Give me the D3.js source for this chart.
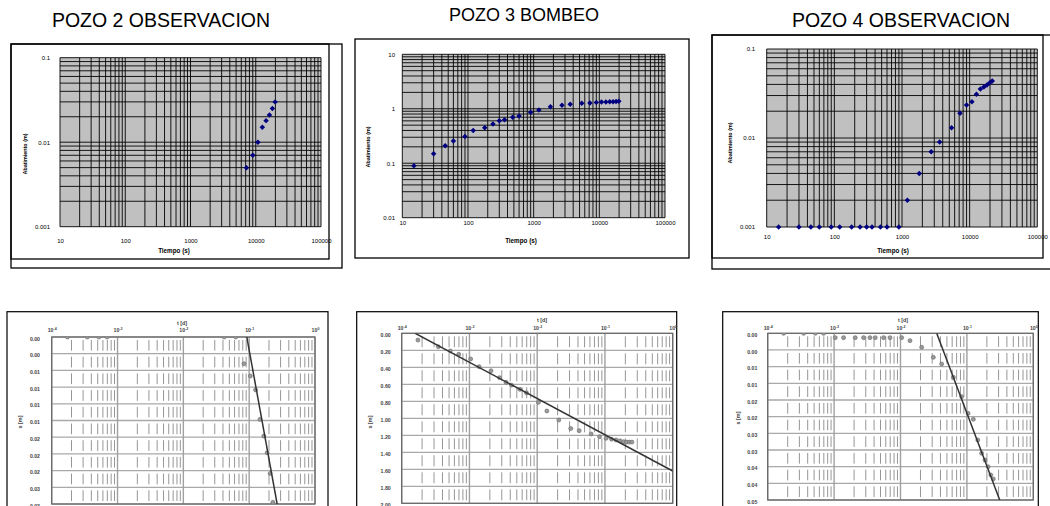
<!DOCTYPE html>
<html>
<head>
<meta charset="utf-8">
<script src="https://cdn.jsdelivr.net/npm/d3@7"></script>
<style>
  body { margin: 0; background: #fff; }
  svg { display: block; font-family: Arial, "Liberation Sans", sans-serif; }
</style>
</head>
<body>
<div id="chart"></div>
<script>
// panel titles
var titles = ["POZO 2 OBSERVACION", "POZO 3 BOMBEO", "POZO 4 OBSERVACION"];

// top charts: tiempo (s) vs abatimiento (m), log-log
var topXTicks = [10, 100, 1000, 10000, 100000];
var topXLabels = ["10", "100", "1000", "10000", "100000"];
var obsYTicks = [0.001, 0.01, 0.1];
var obsYLabels = ["0.001", "0.01", "0.1"];
var bomYTicks = [0.01, 0.1, 1, 10];
var bomYLabels = ["0.01", "0.1", "1", "10"];

var p2Time = [7200, 9000, 10800, 12600, 14400, 16200, 18000, 19800];
var p2Abat = [0.005, 0.007, 0.010, 0.015, 0.018, 0.021, 0.025, 0.030];

var p3Time = [15, 30, 45, 60, 90, 120, 180, 240, 300, 360, 480, 600, 900, 1200, 1800, 2700,
              3600, 5400, 7200, 9000, 10800, 12600, 14400, 16200, 18000, 19800];
var p3Abat = [0.09, 0.15, 0.21, 0.256, 0.31, 0.40, 0.45, 0.525, 0.60, 0.63, 0.70, 0.735, 0.86, 0.95, 1.09, 1.16,
              1.21, 1.26, 1.28, 1.31, 1.33, 1.33, 1.34, 1.34, 1.36, 1.37];

var p4Time = [15, 30, 45, 60, 90, 120, 180, 240, 300, 360, 480, 600, 900, 1200, 1800, 2700,
              3600, 5400, 7200, 9000, 10800, 12600, 14400, 16200, 18000, 19800, 21600];
var p4Abat = [0.001, 0.001, 0.001, 0.001, 0.001, 0.001, 0.001, 0.001, 0.001, 0.001, 0.001, 0.001, 0.001,
              0.002, 0.004, 0.007, 0.009, 0.013, 0.019, 0.0235, 0.0256, 0.031, 0.0355, 0.0374, 0.0394, 0.0418, 0.0437];

// bottom charts: t [d] vs s [m], semilog (Jacob)
var dayTicks = [0.0001, 0.001, 0.01, 0.1, 1];
var p2SLabels = ["0.00", "0.00", "0.01", "0.01", "0.01", "0.01", "0.02", "0.02", "0.02", "0.03", "0.03"];
var p3SLabels = ["0.00", "0.20", "0.40", "0.60", "0.80", "1.00", "1.20", "1.40", "1.60", "1.80", "2.00"];
var p4SLabels = ["0.00", "0.00", "0.01", "0.01", "0.02", "0.02", "0.03", "0.03", "0.04", "0.04", "0.05"];

var p2TimeB = [15, 30, 45, 60, 3600, 5400, 7200, 9000, 10800, 12600, 14400, 16200, 18000, 19800];
var p2S = [0, 0, 0, 0, 0, 0, 0.0048, 0.007, 0.0095, 0.0148, 0.0178, 0.0208, 0.0245, 0.0297];
var p2Fit = [[0.092, 0], [0.266, 0.03]];

var p3TimeB = [15, 30, 45, 60, 90, 120, 180, 240, 300, 360, 480, 600, 900, 1200, 1800, 2700,
               3600, 5400, 7200, 9000, 10800, 12600, 14400, 16200, 18000, 19800, 21600];
var p3S = [0.08, 0.158, 0.208, 0.247, 0.302, 0.393, 0.44, 0.522, 0.576, 0.61, 0.659, 0.70, 0.812, 0.914, 1.02, 1.12,
           1.146, 1.185, 1.216, 1.235, 1.245, 1.255, 1.265, 1.275, 1.28, 1.28, 1.28];
var p3Fit = [[0.000158, 0], [1, 1.62]];

var p4TimeB = p4Time;
var p4S = [0, 0, 0, 0, 0.0013, 0.0013, 0.0013, 0.0013, 0.0013, 0.0013, 0.0013, 0.0013, 0.0013,
           0.0022, 0.0042, 0.0072, 0.0092, 0.0132, 0.019, 0.024, 0.0258, 0.032, 0.036, 0.038, 0.040, 0.0425, 0.0437];
var p4Fit = [[0.0351, 0], [0.312, 0.05]];

var svg = d3.select("#chart").append("svg")
    .attr("width", 1050)
    .attr("height", 506);
svg.append("rect").attr("width", 1050).attr("height", 506).attr("fill", "#fff");

var defs = svg.append("defs");

function frame(g, f, w) {
  g.append("rect")
    .attr("x", f[0]).attr("y", f[1])
    .attr("width", f[2] - f[0]).attr("height", f[3] - f[1])
    .attr("fill", "none").attr("stroke", "#000").attr("stroke-width", w);
}

function drawTop(c) {
  var g = svg.append("g");
  c.frames.forEach(function(f) { frame(g, f, 1.3); });

  var x = d3.scaleLog().domain([10, 100000]).range([c.l, c.r]);
  var y = d3.scaleLog().domain(c.yDomain).range([c.b, c.t]);

  g.append("rect")
    .attr("x", c.l).attr("y", c.t)
    .attr("width", c.r - c.l).attr("height", c.b - c.t)
    .attr("fill", "#c0c0c0");

  // grid (1..9 per decade)
  g.append("g").selectAll("line").data(x.ticks()).join("line")
    .attr("x1", function(d) { return x(d); }).attr("x2", function(d) { return x(d); })
    .attr("y1", c.t).attr("y2", c.b)
    .attr("stroke", "#000").attr("stroke-width", 0.9);
  g.append("g").selectAll("line").data(y.ticks()).join("line")
    .attr("x1", c.l).attr("x2", c.r)
    .attr("y1", function(d) { return y(d); }).attr("y2", function(d) { return y(d); })
    .attr("stroke", "#000").attr("stroke-width", 0.9);

  // axes
  var ya = g.append("g")
    .attr("transform", "translate(" + c.l + ",0)")
    .call(d3.axisLeft(y).tickValues(c.yTicks)
      .tickFormat(function(d, i) { return c.yLabels[i]; })
      .tickSize(0).tickPadding(c.l - c.yLabX));
  var xa = g.append("g")
    .attr("transform", "translate(0," + c.b + ")")
    .call(d3.axisBottom(x).tickValues(topXTicks)
      .tickFormat(function(d, i) { return topXLabels[i]; })
      .tickSize(0));
  xa.selectAll("text").attr("y", c.xLabY - c.b).attr("dy", "0.35em");
  [ya, xa].forEach(function(a) {
    a.select(".domain").remove();
    a.selectAll("text").attr("font-size", 6).attr("fill", "#000")
      .attr("font-family", "Arial, 'Liberation Sans', sans-serif");
  });

  g.append("text")
    .attr("x", c.xTitle[0]).attr("y", c.xTitle[1])
    .attr("text-anchor", "middle").attr("font-size", 6.3).attr("font-weight", "bold")
    .text("Tiempo (s)");
  g.append("text")
    .attr("transform", "translate(" + c.yTitle[0] + "," + c.yTitle[1] + ") rotate(-90)")
    .attr("text-anchor", "middle").attr("font-size", 5.4).attr("font-weight", "bold")
    .text("Abatimiento (m)");

  // points
  var sym = d3.symbol().type(d3.symbolSquare).size(15);
  g.append("g").selectAll("path").data(c.time).join("path")
    .attr("d", sym)
    .attr("transform", function(d, i) {
      return "translate(" + x(d) + "," + y(c.abat[i]) + ") rotate(45)";
    })
    .attr("fill", "#000080");
}

function drawBottom(c, id) {
  var g = svg.append("g");
  frame(g, c.frame, 1.2);

  var x = d3.scaleLog().domain([0.0001, 1]).range([c.l, c.r]);
  var y = d3.scaleLinear().domain([0, c.sMax]).range([c.t, c.b]);
  var sTicks = d3.range(c.sLabels.length).map(function(i) { return c.sMax * i / (c.sLabels.length - 1); });
  var rowH = y(sTicks[1]) - y(0);

  defs.append("clipPath").attr("id", id)
    .append("rect").attr("x", c.l).attr("y", c.t)
    .attr("width", c.r - c.l).attr("height", c.b - c.t);

  // horizontal grid
  g.append("g").selectAll("line").data(sTicks).join("line")
    .attr("x1", c.l).attr("x2", c.r)
    .attr("y1", function(d) { return y(d); }).attr("y2", function(d) { return y(d); })
    .attr("stroke", "#a9a9a9").attr("stroke-width", 1.3);

  // vertical grid: decades solid, the rest dashed
  var isDecade = function(d) { var l = Math.log10(d); return Math.abs(l - Math.round(l)) < 1e-9; };
  g.append("g").selectAll("line").data(x.ticks()).join("line")
    .attr("x1", function(d) { return x(d); }).attr("x2", function(d) { return x(d); })
    .attr("y1", c.t).attr("y2", c.b)
    .attr("stroke", function(d) { return isDecade(d) ? "#a0a0a0" : "#8a8a8a"; })
    .attr("stroke-width", function(d) { return isDecade(d) ? 1.4 : 0.9; })
    .attr("stroke-dasharray", function(d) { return isDecade(d) ? null : (rowH - 6) + "," + 6; })
    .attr("stroke-dashoffset", rowH - 3);

  g.append("rect")
    .attr("x", c.l).attr("y", c.t)
    .attr("width", c.r - c.l).attr("height", c.b - c.t)
    .attr("fill", "none").attr("stroke", "#666").attr("stroke-width", 1.2);

  // axes
  var ya = g.append("g")
    .attr("transform", "translate(" + c.l + ",0)")
    .call(d3.axisLeft(y).tickValues(sTicks)
      .tickFormat(function(d, i) { return c.sLabels[i]; })
      .tickSize(0).tickPadding(c.l - c.yLabX));
  ya.selectAll("text").attr("dy", "0.6em");
  var xa = g.append("g")
    .attr("transform", "translate(0," + c.t + ")")
    .call(d3.axisTop(x).tickValues(dayTicks).tickFormat("").tickSize(0));
  xa.selectAll(".tick text")
    .attr("y", c.xLabY - c.t).attr("dy", 0)
    .each(function(d) {
      var t = d3.select(this);
      t.append("tspan").text("10");
      t.append("tspan").attr("dy", -2)
        .text(String(Math.round(Math.log10(d))));
    });
  [ya, xa].forEach(function(a) {
    a.select(".domain").remove();
    a.selectAll("text").attr("font-size", 5.2).attr("font-weight", "bold").attr("fill", "#444")
      .attr("font-family", "Arial, 'Liberation Sans', sans-serif");
  });
  xa.selectAll(".tick text tspan:nth-child(2)").attr("font-size", 3.6);

  g.append("text")
    .attr("x", c.xTitle[0]).attr("y", c.xTitle[1])
    .attr("text-anchor", "middle").attr("font-size", 5.4).attr("font-weight", "bold").attr("fill", "#444")
    .text("t [d]");
  g.append("text")
    .attr("transform", "translate(" + c.yTitle[0] + "," + c.yTitle[1] + ") rotate(-90)")
    .attr("text-anchor", "middle").attr("font-size", 5.4).attr("font-weight", "bold").attr("fill", "#444")
    .text("s [m]");

  var pg = g.append("g").attr("clip-path", "url(#" + id + ")");
  pg.selectAll("circle").data(c.time).join("circle")
    .attr("cx", function(d) { return x(d / 86400); })
    .attr("cy", function(d, i) { return y(c.s[i]); })
    .attr("r", 2)
    .attr("fill", "#9a9a9a").attr("stroke", "#666").attr("stroke-width", 0.6);

  pg.append("path")
    .datum(c.fit)
    .attr("d", d3.line().x(function(d) { return x(d[0]); }).y(function(d) { return y(d[1]); }))
    .attr("fill", "none").attr("stroke", "#333").attr("stroke-width", 1.5);
}

// titles
var titlePos = [[161, 27], [524, 21], [901, 27]];
var titleSize = [19.5, 18, 19.5];
svg.selectAll("text.title").data(titles).join("text")
  .attr("class", "title")
  .attr("x", function(d, i) { return titlePos[i][0]; })
  .attr("y", function(d, i) { return titlePos[i][1]; })
  .attr("text-anchor", "middle")
  .attr("font-size", function(d, i) { return titleSize[i]; })
  .attr("fill", "#000")
  .text(function(d) { return d; });

drawTop({
  frames: [[11, 44, 329, 259], [11, 44, 342, 268]],
  l: 60, r: 321, t: 57.7, b: 226.7, yDomain: [0.001, 0.1],
  yTicks: obsYTicks, yLabels: obsYLabels, yLabX: 50, xLabY: 241,
  xTitle: [174, 253], yTitle: [27, 154],
  time: p2Time, abat: p2Abat
});
drawTop({
  frames: [[355, 39, 689, 258]],
  l: 402.3, r: 665, t: 54.3, b: 217.7, yDomain: [0.01, 10],
  yTicks: bomYTicks, yLabels: bomYLabels, yLabX: 395, xLabY: 223,
  xTitle: [521, 243], yTitle: [370, 147],
  time: p3Time, abat: p3Abat
});
drawTop({
  frames: [[712, 35, 1043, 258], [712, 35, 1060, 269]],
  l: 766.7, r: 1037.3, t: 49, b: 227, yDomain: [0.001, 0.1],
  yTicks: obsYTicks, yLabels: obsYLabels, yLabX: 755, xLabY: 237,
  xTitle: [893, 253], yTitle: [732, 143],
  time: p4Time, abat: p4Abat
});

drawBottom({
  frame: [7, 311.7, 328, 530],
  l: 51.7, r: 315, t: 337, b: 504, sMax: 0.03, sLabels: p2SLabels,
  yLabX: 40, xLabY: 332, xTitle: [182, 325], yTitle: [22, 422],
  time: p2TimeB, s: p2S, fit: p2Fit
}, "clipB1");
drawBottom({
  frame: [356.7, 311.7, 676.7, 530],
  l: 401.7, r: 672.7, t: 333.3, b: 503.3, sMax: 2.0, sLabels: p3SLabels,
  yLabX: 390.7, xLabY: 330, xTitle: [542, 322], yTitle: [372, 422],
  time: p3TimeB, s: p3S, fit: p3Fit
}, "clipB2");
drawBottom({
  frame: [722.7, 311.7, 1038.3, 530],
  l: 767.7, r: 1033.3, t: 333.3, b: 500, sMax: 0.05, sLabels: p4SLabels,
  yLabX: 757.3, xLabY: 330, xTitle: [903, 322], yTitle: [740, 418],
  time: p4TimeB, s: p4S, fit: p4Fit
}, "clipB3");
</script>
</body>
</html>
